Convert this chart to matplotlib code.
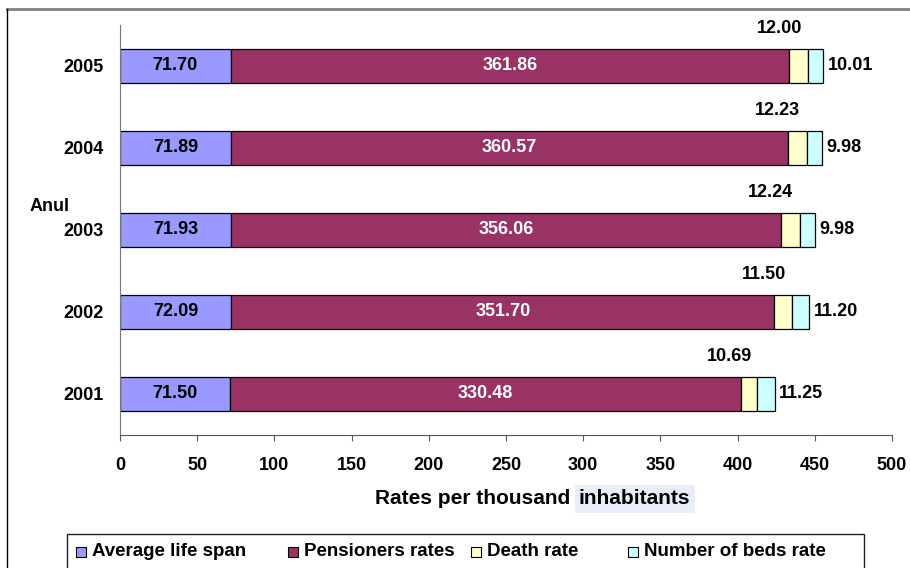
import numpy as np
import matplotlib.pyplot as plt
from matplotlib.patches import Rectangle
from matplotlib.lines import Line2D

plt.rcParams['font.family'] = ['Liberation Sans', 'DejaVu Sans']
plt.rcParams['font.weight'] = 'bold'

# datos
years = ["2001", "2002", "2003", "2004", "2005"]
life_span = [71.50, 72.09, 71.93, 71.89, 71.70]
pensioners = [330.48, 351.70, 356.06, 360.57, 361.86]
death_rate = [10.69, 11.50, 12.24, 12.23, 12.00]
beds_rate = [11.25, 11.20, 9.98, 9.98, 10.01]

series = [life_span, pensioners, death_rate, beds_rate]
names = ["Average life span", "Pensioners rates", "Death rate", "Number of beds rate"]
colors = ["#9999FF", "#993366", "#FFFFCC", "#CCFFFF"]

W, H = 910, 568


def fx(px):
    return px / W


def fy(py):
    return 1 - py / H


fig = plt.figure(figsize=(W / 100, H / 100), dpi=100)
ax = fig.add_axes([fx(120), fy(435), (892 - 120) / W, (435 - 25) / H])

# marco exterior
fig.lines.append(Line2D([fx(7), 1.0], [fy(9), fy(9)], transform=fig.transFigure,
                        color="#808080", linewidth=2))
fig.lines.append(Line2D([fx(7), fx(7)], [0, fy(9)], transform=fig.transFigure,
                        color="black", linewidth=1))

y = np.arange(len(years))
left = np.zeros(len(years))
for vals, c in zip(series, colors):
    ax.barh(y, vals, left=left, height=0.42, color=c, edgecolor="black", linewidth=0.9)
    left += np.array(vals)

# etiquetas
fs = 13
for i in range(len(years)):
    ax.text(life_span[i] / 2, y[i], f"{life_span[i]:.2f}", ha="center", va="center",
            fontsize=fs, fontweight="bold", color="black")
    ax.text(life_span[i] + pensioners[i] / 2, y[i], f"{pensioners[i]:.2f}", ha="center",
            va="center", fontsize=fs, fontweight="bold", color="white")
    d_mid = life_span[i] + pensioners[i] + death_rate[i] / 2
    ax.annotate(f"{death_rate[i]:.2f}", (d_mid, y[i]), xytext=(-14, 27),
                textcoords="offset points", ha="center", va="center",
                fontsize=fs, fontweight="bold")
    ax.annotate(f"{beds_rate[i]:.2f}", (left[i], y[i]), xytext=(3, 0),
                textcoords="offset points", ha="left", va="center",
                fontsize=fs, fontweight="bold")

ax.set_xlim(0, 500)
ax.set_ylim(-0.5, 4.5)
ax.set_xticks(np.arange(0, 501, 50))
ax.set_yticks(y)
ax.set_yticklabels(years)
ax.tick_params(axis="y", length=0, pad=12, labelsize=fs)
ax.tick_params(axis="x", length=4, direction="out", pad=12, labelsize=fs, color="#555555")
for lab in ax.get_xticklabels() + ax.get_yticklabels():
    lab.set_fontweight("bold")
ax.spines["top"].set_visible(False)
ax.spines["right"].set_visible(False)
ax.spines["left"].set_color("#777777")
ax.spines["bottom"].set_color("#555555")

fig.text(fx(50), fy(206), "Anul", ha="center", va="center", fontsize=fs, fontweight="bold")

# titulo del eje x con resaltado
fig.text(fx(576), fy(499), "Rates per thousand ", ha="right", va="center",
         fontsize=15, fontweight="bold")
fig.text(fx(579), fy(499), "inhabitants", ha="left", va="center",
         fontsize=15, fontweight="bold",
         bbox=dict(facecolor="#E9EDF8", edgecolor="none", pad=3))

# leyenda
fig.patches.append(Rectangle((fx(67), fy(580)), (864 - 67) / W, (580 - 534) / H,
                             transform=fig.transFigure, fill=False,
                             edgecolor="#222222", linewidth=1))
marker_x = [76, 288, 471, 628]
for mx, name, c in zip(marker_x, names, colors):
    fig.patches.append(Rectangle((fx(mx), fy(557)), 10 / W, 10 / H,
                                 transform=fig.transFigure, facecolor=c,
                                 edgecolor="black", linewidth=0.8))
    fig.text(fx(mx + 16), fy(552), name, ha="left", va="center",
             fontsize=13.5, fontweight="bold")

plt.savefig("out.png", dpi=100)
